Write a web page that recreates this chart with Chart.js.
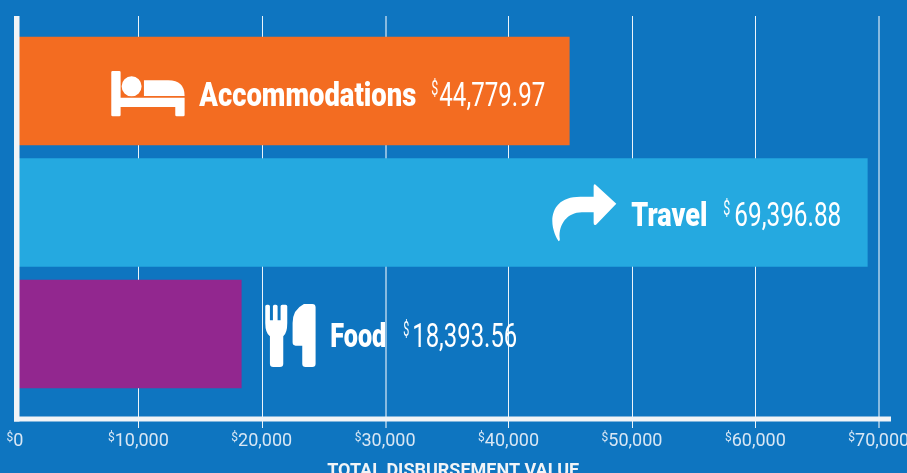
<!DOCTYPE html>
<html>
<head>
<meta charset="utf-8">
<style>
html,body{margin:0;padding:0;background:#0e75c0;overflow:hidden}
canvas{display:block}
</style>
<script src="https://cdn.jsdelivr.net/npm/chart.js@4/dist/chart.umd.min.js"></script>
</head>
<body>
<canvas id="c" width="907" height="473"></canvas>
<script>
const categories = ["Accommodations", "Travel", "Food"];
// Bar lengths
const barValues = [44890, 69040, 18310];
// Amounts as printed next to each bar
const printedValues = ["44,779.97", "69,396.88", "18,393.56"];
const tickValues = [0, 10000, 20000, 30000, 40000, 50000, 60000, 70000];
const axisTitle = "TOTAL DISBURSEMENT VALUE";
const barColors = ["#f36c21", "#25a9e0", "#92278f"];

const TEXT = "#ffffff", AXIS = "#f1f4f7", TICK = "#d9e7f4";
const FONT = "Roboto, sans-serif";

// Label placement relative to each bar's end and centre (text is condensed to the width given)
const labelLayout = [
  {name:[-370,217], sign:[-138,7], value:[-130,106], base:15, icon:[-458,-20]},
  {name:[-236,76],  sign:[-144,7], value:[-133,107], base:13.5, icon:[-315,-28]},
  {name:[89,56],    sign:[162,6],  value:[171,105],  base:13, icon:[24,-30], behindGrid:true}
];
const icons = [
  new Path2D("M38 32H58Q62 32 62 36V112H254V164Q254 168 250 168H230Q226 168 226 164V140H62V164Q62 168 58 168H38Q34 168 34 164V36Q34 32 38 32ZM65 78a30 30 0 1 0 60 0a30 30 0 1 0 -60 0ZM132 60H205Q254 60 254 107H132Z"),
  new Path2D("M228 103L165 45Q160 43 160 50V82H120C60 82 36 115 36 155C36 180 48 205 55 215Q60 215 58 205C55 165 80 128 125 128H160V160Q160 170 168 165Z"),
  new Path2D("M44 50Q44 45 49 45H53Q58 45 58 50V92H67V50Q67 45 72 45H76Q81 45 81 50V92H90V50Q90 45 95 45H105Q110 45 110 50V100Q110 130 98 140V222Q98 232 88 232H68Q58 232 58 222V140Q44 130 44 100ZM160 43H185Q195 43 195 53V222Q195 232 185 232H165Q155 232 155 222V168H135Q126 168 126 158V100Q126 60 160 43Z")
];
const iconOrigins = [[34,32],[36,45],[44,43]];

function fitted(ctx, text, x, y, width, font) {
  ctx.save();
  ctx.font = font;
  ctx.textAlign = "left";
  ctx.textBaseline = "alphabetic";
  ctx.fillStyle = TEXT;
  const w = ctx.measureText(text).width;
  ctx.translate(x, y);
  ctx.scale(width / w, 1);
  ctx.fillText(text, 0, 0);
  ctx.restore();
}
function drawLabel(chart, i) {
  const ctx = chart.ctx, L = labelLayout[i];
  const bar = chart.getDatasetMeta(0).data[i];
  const ex = bar.x, cy = bar.y, by = cy + L.base;
  fitted(ctx, categories[i], ex + L.name[0], by, L.name[1], "900 33px " + FONT);
  fitted(ctx, "$", ex + L.sign[0], by - 11, L.sign[1], "400 21px " + FONT);
  fitted(ctx, printedValues[i], ex + L.value[0], by, L.value[1], "400 33px " + FONT);
  const o = iconOrigins[i];
  ctx.save();
  ctx.translate(ex + L.icon[0], cy + L.icon[1]);
  ctx.scale(1/3, 1/3);
  ctx.translate(-o[0], -o[1]);
  ctx.fillStyle = TEXT;
  ctx.fill(icons[i]);
  ctx.restore();
}
const decor = {
  id: "decor",
  beforeDraw(chart) {
    labelLayout.forEach((L, i) => { if (L.behindGrid) drawLabel(chart, i); });
  },
  afterDatasetsDraw(chart) {
    const ctx = chart.ctx, x = chart.scales.x;
    labelLayout.forEach((L, i) => { if (!L.behindGrid) drawLabel(chart, i); });
    // axis lines
    ctx.save();
    ctx.fillStyle = AXIS;
    ctx.fillRect(14, 16, 5.5, 405.5);
    ctx.fillRect(14, 416.5, x.right - 14, 5);
    // small currency sign in front of every tick label
    ctx.font = "400 18px " + FONT;
    const widths = x.ticks.map(t => ctx.measureText(t.label).width);
    ctx.font = "400 12px " + FONT;
    ctx.fillStyle = TICK;
    ctx.textAlign = "right";
    ctx.textBaseline = "alphabetic";
    x.ticks.forEach((t, i) => {
      ctx.fillText("$", x.getPixelForValue(t.value) + 3 - widths[i] / 2, 441);
    });
    ctx.restore();
  }
};
const gridColor = c => {
  const v = c.tick && c.tick.value;
  if (v === 0) return "rgba(255,255,255,0)";
  return (v === 30000 || v === 70000) ? "rgba(255,255,255,0.5)" : "rgba(255,255,255,0.92)";
};
const gridWidth = c => {
  const v = c.tick && c.tick.value;
  return (v === 30000 || v === 70000) ? 2 : 1;
};

new Chart(document.getElementById("c"), {
  type: "bar",
  data: {
    datasets: [{
      data: categories.map((c, i) => ({x: barValues[i], y: i})),
      backgroundColor: barColors,
      barThickness: 108,
      borderWidth: 0
    }]
  },
  options: {
    indexAxis: "y",
    responsive: false,
    animation: false,
    layout: {padding: {left: 15.3, right: 16, top: 16, bottom: -9}},
    plugins: {legend: {display: false}, tooltip: {enabled: false}},
    scales: {
      y: {
        type: "linear", reverse: true, display: false, offset: false,
        grid: {offset: false},
        min: -0.6173, max: 2.6996
      },
      x: {
        type: "linear", position: "bottom", min: 0, max: 70960,
        border: {display: false},
        grid: {color: gridColor, tickColor: gridColor, lineWidth: gridWidth, tickWidth: gridWidth, tickLength: 9},
        ticks: {
          autoSkip: false, maxRotation: 0, minRotation: 0,
          labelOffset: 3, padding: 3, color: TICK,
          font: {family: FONT, size: 18, weight: "400"},
          callback: v => v.toLocaleString("en-US")
        },
        title: {
          display: true, text: axisTitle, color: "#f1f4f7", padding: 0,
          font: {family: FONT, size: 18, weight: "700"}
        },
        afterBuildTicks(s) { s.ticks = tickValues.map(v => ({value: v})); },
        afterFit(s) { s.paddingLeft = 0; s.paddingRight = 0; s.height = 63; }
      }
    }
  },
  plugins: [decor]
});
</script>
</body>
</html>
